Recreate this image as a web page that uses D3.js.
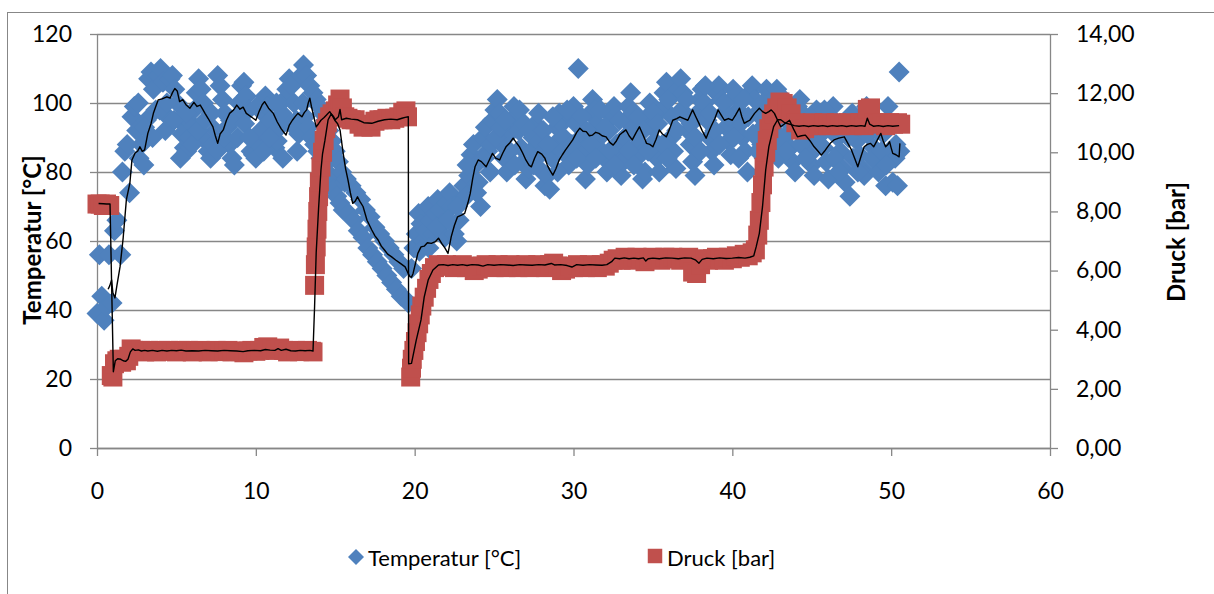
<!DOCTYPE html>
<html><head><meta charset="utf-8">
<script src="https://cdn.jsdelivr.net/npm/d3@7"></script>
<style>
body{margin:0;background:#fff;}
svg{display:block;}
text{font-family:Lato, "Open Sans", sans-serif;fill:#000;}
</style>
</head><body>
<svg id="chart" width="1214" height="594"></svg>
<script>
// ---------- DATA (minutes, value) ----------
const temperaturPoints = [
[0,39],[0.15,56],[0.3,44],[0.45,37],[0.6,41],[0.75,56],[0.95,42],[1.1,63],[1.25,66],[1.5,56],[1.6,80],[1.75,86],[1.9,88],[2.05,74],[2.2,96],[2.35,99],[2.5,92],[2.65,84],[2.8,88],[2.95,82],
[3.1,95],[3.25,107],[3.4,109],[3.55,104],[3.7,98],[3.85,108],[4.0,110],[4.15,106],[4.3,92],[4.45,96],[4.6,107],[4.75,108],[4.9,104],[5.05,100],[5.2,95],[5.35,91],[5.5,87],[5.65,86],[5.8,90],[5.95,94],
[6.1,98],[6.25,103],[6.4,107],[6.55,104],[6.7,100],[6.85,89],[7.0,86],[7.15,84],[7.3,88],[7.45,92],[7.6,108],[7.75,105],[7.9,101],[8.05,97],[8.2,93],[8.35,88],[8.5,84],[8.65,82],[8.8,96],[8.95,100],
[9.1,105],[9.25,106],[9.4,102],[9.55,98],[9.7,86],[9.85,85],[10.0,84],[10.15,88],[10.3,92],[10.45,97],[10.6,102],[10.75,99],[10.9,95],[11.05,91],[11.2,87],[11.35,89],[11.5,93],[11.65,97],[11.8,101],[11.95,104],
[12.1,107],[12.25,105],[12.4,100],[12.55,95],[12.7,91],[12.85,108],[13.0,111],[13.1,96],[13.2,108],[13.3,93],[13.4,105],[13.5,90],[13.6,103],[13.7,88],[13.8,101],[13.9,86],[14.0,99],[14.1,84],[14.2,97],[14.3,82],
[14.4,95],[14.5,80],[14.6,92],[14.7,78],[14.8,89],[14.9,75],[15.0,86],[15.1,73],[15.2,83],[15.3,71],[15.4,80],[15.5,69],[15.6,77],[15.7,78],[15.85,68],[16.0,76],[16.15,66],[16.3,74],[16.45,63],[16.6,72],
[16.75,61],[16.9,69],[17.05,58],[17.2,67],[17.35,56],[17.5,64],[17.65,54],[17.8,62],[17.95,52],[18.1,60],[18.25,50],[18.4,58],[18.55,48],[18.7,56],[18.85,46],[19.0,54],[19.15,44],[19.3,52],[19.45,43],[19.6,42],
[19.8,52],[19.95,58],[20.1,62],[20.25,68],[20.4,65],[20.55,60],[20.7,63],[20.85,70],[21.0,66],[21.15,62],[21.3,68],[21.45,72],[21.6,69],[21.75,65],[21.9,61],[22.05,71],[22.2,74],[22.35,70],[22.5,62],[22.65,60],
[22.8,66],[22.95,72],[23.1,76],[23.25,73],[23.4,79],[23.55,85],[23.7,88],[23.85,82],[24.0,77],[24.15,70],[24.3,90],[24.45,93],[24.6,86],[24.75,80],[24.9,95],
[25.05,98],[25.2,101],[25.35,97],[25.5,88],[25.65,84],[25.8,80],[25.95,91],[26.1,95],[26.25,99],[26.4,96],[26.55,92],[26.7,87],[26.85,83],[27.0,78],[27.15,81],[27.3,86],[27.45,90],[27.6,94],[27.75,89],[27.9,85],
[28.05,80],[28.2,76],[28.35,79],[28.5,75],[28.65,84],[28.8,88],[28.95,93],[29.1,97],[29.25,94],[29.4,90],[29.55,86],[29.7,82],[29.85,96],[30.0,99],[30.15,94],[30.3,110],[30.45,90],[30.6,86],[30.75,78],[30.9,82],
[31.05,97],[31.2,101],[31.35,98],[31.5,94],[31.65,90],[31.8,86],[31.95,84],[32.1,80],[32.25,92],[32.4,96],[32.55,99],[32.7,88],[32.85,84],[33.0,79],[33.15,83],[33.3,95],[33.45,99],[33.6,103],[33.75,97],[33.9,92],
[34.05,88],[34.2,85],[34.35,78],[34.5,80],[34.65,96],[34.8,100],[34.95,93],[35.1,89],[35.25,84],[35.4,80],[35.55,98],[35.7,103],[35.85,106],[36.0,101],[36.15,90],[36.3,86],[36.45,81],
[36.6,104],[36.75,107],[36.9,103],[37.05,96],[37.2,92],[37.35,88],[37.5,83],[37.65,79],[37.8,97],[37.95,101],[38.1,104],[38.25,100],[38.4,95],[38.55,90],[38.7,86],[38.85,82],[39.0,103],[39.15,105],[39.3,101],[39.45,97],
[39.6,93],[39.75,89],[39.9,85],[40.05,104],[40.2,102],[40.35,98],[40.5,94],[40.65,90],[40.8,86],[40.95,80],[41.1,103],[41.25,105],[41.4,101],[41.55,97],[41.7,92],[41.85,88],[42.0,84],[42.15,104],[42.3,100],[42.45,96],
[42.6,92],[42.75,88],[42.9,84],[43.05,102],[43.2,99],[43.35,95],[43.5,91],
[43.65,87],[43.8,83],[43.95,80],[44.1,99],[44.25,101],[44.4,97],[44.55,93],[44.7,89],[44.85,85],[45.0,82],[45.15,79],[45.3,98],[45.45,95],[45.6,91],[45.75,87],[45.9,83],[46.05,78],[46.2,96],[46.35,99],[46.5,94],
[46.65,90],[46.8,86],[46.95,81],[47.1,77],[47.4,73],[47.55,97],[47.7,93],[47.85,89],[48.0,85],[48.15,81],[48.3,79],[48.45,99],[48.6,96],[48.75,92],[48.9,87],[49.05,83],[49.2,80],[49.35,94],[49.5,91],[49.65,76],
[49.8,99],[49.95,86],[50.1,77],[50.25,84],[50.4,76],[50.5,109],[50.55,86],
[2.6,100],[3.0,93],[3.5,90],[3.95,98],[4.4,100],[4.85,95],[5.25,84],[5.6,97],[6.0,88],[6.35,92],[6.8,95],[7.2,97],[7.55,86],[8.0,90],[8.4,95],[8.85,90],[9.3,94],[9.6,90],[10.05,99],[10.5,86],
[10.85,90],[11.3,100],[11.7,84],[12.2,94],[12.6,86],[12.95,100],
[20.3,57],[20.9,58],[21.4,64],[22.1,66],[22.7,70],[23.3,82],[23.9,74],[24.4,84],[24.8,88],
[25.1,90],[25.4,93],[25.7,95],[26.0,86],[26.3,82],[26.6,98],[26.9,94],[27.2,92],[27.5,82],[27.8,97],[28.1,92],[28.4,88],[28.7,96],[29.0,80],[29.3,86],[29.6,98],[29.9,88],[30.2,84],[30.5,96],[30.8,92],
[31.1,88],[31.4,84],[31.7,98],[32.0,93],[32.3,86],[32.6,82],[32.9,95],[33.2,90],[33.5,86],[33.8,82],[34.1,96],[34.4,92],[34.7,86],[35.0,97],[35.3,94],[35.6,88],[35.9,84],[36.2,96],[36.5,92],[36.8,98],
[37.1,101],[37.4,94],[37.7,90],[38.0,86],[38.3,105],[38.6,97],[38.9,92],[39.2,88],[39.5,100],[39.8,96],[40.1,90],[40.4,84],[40.7,101],[41.0,96],[41.3,91],[41.6,86],[41.9,100],[42.2,94],[42.5,88],[42.8,104],
[43.1,90],[43.4,86],[43.7,98],[44.0,93],[44.3,88],[44.6,84],[44.9,96],[45.2,92],[45.5,88],[45.8,98],[46.1,93],[46.4,84],[46.7,80],[47.0,94],[47.3,90],[47.6,84],[47.9,80],[48.2,95],[48.5,91],[48.8,84],
[49.1,92],[49.4,86],[49.7,82],[50.0,94],[50.3,88]
];

const druckPoints = [
[0,8.25],[0.2,8.25],[0.4,8.2],[0.6,8.25],[0.8,8.2],[0.9,2.45],[1.0,2.4],[1.1,2.85],[1.25,2.95],[1.4,3.0],[1.55,2.9],[1.7,3.0],[1.85,2.95],[2.0,3.1],[2.15,3.35],[2.3,3.3],[2.5,3.28],[2.75,3.3],[3.0,3.25],[3.25,3.3],
[3.5,3.28],[3.75,3.25],[4.0,3.3],[4.25,3.27],[4.5,3.3],[4.75,3.28],[5.0,3.25],[5.25,3.3],[5.5,3.27],[5.75,3.3],[6.0,3.25],[6.25,3.28],[6.5,3.3],[6.75,3.27],[7.0,3.25],[7.25,3.28],[7.5,3.3],[7.75,3.26],[8.0,3.28],[8.25,3.3],
[8.5,3.25],[8.75,3.28],[9.0,3.26],[9.25,3.22],[9.5,3.28],[9.75,3.3],[10.0,3.27],[10.25,3.3],[10.5,3.4],[10.75,3.42],[11.0,3.35],[11.25,3.3],[11.5,3.38],[11.75,3.3],[12.0,3.25],[12.25,3.28],[12.5,3.3],[12.75,3.26],[13.0,3.28],[13.25,3.3],
[13.5,3.27],[13.6,3.25],[13.7,5.5],[13.75,6.2],[13.8,6.8],[13.85,7.4],[13.9,8.0],[13.95,8.5],[14.0,9.0],[14.1,9.5],[14.2,10.0],[14.3,10.4],[14.4,10.8],[14.5,11.0],[14.65,11.2],[14.8,11.3],[15.0,11.4],[15.15,11.6],[15.3,11.8],[15.45,11.5],
[15.6,11.2],[15.8,11.15],[16.0,11.1],[16.25,11.1],[16.5,10.95],[16.75,10.85],[17.0,10.9],[17.25,10.85],[17.5,11.05],[17.75,11.1],[18.0,11.1],[18.25,11.15],[18.5,11.1],[18.75,11.15],[19.0,11.2],[19.25,11.35],[19.45,11.4],[19.55,11.2],
[19.75,2.4],[19.8,2.7],[19.85,3.0],[19.95,3.3],[20.05,3.6],[20.15,3.9],[20.25,4.2],[20.35,4.5],[20.45,4.8],[20.6,5.1],[20.75,5.4],[20.9,5.7],[21.05,5.9],[21.25,6.1],[21.5,6.2],[21.75,6.15],[22.0,6.2],[22.25,6.15],[22.5,6.1],[22.75,6.15],
[23.0,6.2],[23.25,6.1],[23.5,6.15],[23.75,6.0],[24.0,6.05],[24.25,6.15],[24.5,6.2],[24.75,6.15],[25.0,6.1],[25.25,6.2],[25.5,6.15],[25.75,6.1],[26.0,6.2],[26.25,6.15],[26.5,6.1],[26.75,6.15],[27.0,6.2],[27.25,6.1],[27.5,6.15],[27.75,6.2],
[28.0,6.15],[28.25,6.1],[28.5,6.2],[28.75,6.25],[29.0,6.15],[29.25,6.0],[29.5,6.05],[29.75,6.15],[30.0,6.1],[30.25,6.2],[30.5,6.15],[30.75,6.1],[31.0,6.2],[31.25,6.15],[31.5,6.1],[31.75,6.2],[32.0,6.15],[32.25,6.25],[32.5,6.35],[32.75,6.4],
[33.0,6.35],[33.25,6.45],[33.5,6.4],[33.75,6.35],[34.0,6.45],[34.25,6.4],[34.5,6.3],[34.75,6.4],[35.0,6.45],[35.25,6.4],[35.5,6.35],[35.75,6.45],[36.0,6.4],[36.25,6.45],[36.5,6.4],[36.75,6.35],[37.0,6.4],[37.25,6.45],[37.5,5.95],[37.75,5.9],
[38.0,6.2],[38.25,6.4],[38.5,6.35],[38.75,6.4],[39.0,6.45],[39.25,6.4],[39.5,6.35],[39.75,6.45],[40.0,6.4],[40.25,6.5],[40.5,6.45],[40.75,6.55],[41.0,6.5],[41.25,6.6],[41.45,6.7],[41.6,7.2],[41.7,7.7],[41.8,8.3],[41.9,8.9],[42.0,9.5],
[42.1,10.0],[42.2,10.4],[42.3,10.8],[42.45,11.1],[42.6,11.3],[42.8,11.5],[43.0,11.7],[43.2,11.65],[43.45,11.5],[43.7,11.3],[44.0,11.0],[44.3,10.75],[44.55,10.8],[44.8,10.9],[45.05,11.0],[45.3,10.9],[45.55,10.95],[45.8,11.0],[46.05,10.9],[46.3,10.95],
[46.55,11.0],[46.8,10.9],[47.05,10.95],[47.3,11.0],[47.55,10.9],[47.8,10.95],[48.05,11.0],[48.3,10.9],[48.5,11.45],[48.7,11.5],[48.9,11.0],[49.15,10.95],[49.4,11.0],[49.65,10.9],[49.9,11.0],[50.15,10.95],[50.4,11.0],[50.6,10.95]
];

// moving-average trend lines (black)
const temperaturTrend = [
[0.7,46],[0.8,47],[0.92,48.7],[1.0,45],[1.13,43.5],[1.25,47],[1.45,52.5],[1.65,61],[1.85,72],[2.07,76.8],[2.2,83.5],[2.4,85.5],[2.55,86],[2.7,87.3],[2.85,86],[3.0,86.4],[3.2,91.2],[3.4,94],[3.55,97],[3.7,99],
[3.85,100.9],[4.1,101.2],[4.4,101.8],[4.6,101.4],[4.75,103],[4.9,104.2],[5.05,103.5],[5.2,100.4],[5.4,101],[5.6,99.5],[5.85,98.5],[6.1,100.2],[6.3,99],[6.5,99.4],[6.65,98.2],[6.8,97],[7.0,95.5],[7.3,93.1],[7.45,90.5],[7.6,88.3],
[7.75,91],[7.95,92.2],[8.15,95],[8.35,97],[8.6,98],[8.8,99.4],[9.0,98.2],[9.2,98.8],[9.4,97],[9.7,96],[10.0,95],[10.2,97.5],[10.4,99.5],[10.55,100.4],[10.8,98.5],[11.1,97],[11.35,94.5],[11.6,92.5],[11.9,90.7],[12.1,93.5],
[12.3,95],[12.5,96.2],[12.65,97],[12.9,96],[13.05,97.2],[13.2,98],[13.3,100],[13.4,101.4],[13.5,99],[13.6,97],[13.8,93.1],[13.95,94],[14.1,95],[14.3,95.8],[14.45,96.5],[14.65,97.5],[14.8,96.5],[14.97,95],[15.15,94],[15.3,92.2],
[15.5,85.4],[15.65,81],[15.8,77.7],[15.95,74],[16.1,70.9],[16.25,71.5],[16.4,72.8],[16.55,71.5],[16.75,70],[17.0,66],[17.3,63.2],[17.5,61.5],[17.7,60.3],[17.9,58.5],[18.1,57.4],[18.3,56.2],[18.55,55.4],[18.8,54.5],[19.1,53.5],[19.4,52.5],
[19.55,51],[19.7,49.7],[19.8,49.5],[19.9,50.6],[20.05,53.5],[20.2,56.4],[20.4,58.3],[20.6,58.5],[20.8,59.5],[21.05,59.3],[21.3,59.8],[21.5,60.8],[21.7,59.3],[21.9,58],[22.1,56.4],[22.3,61.2],[22.5,64.5],[22.7,67],[22.95,67.5],[23.15,68],
[23.35,71],[23.5,73.8],[23.65,78],[23.8,81.5],[24.0,83.5],[24.2,83],[24.5,81.5],[24.7,83.5],[24.9,85.4],[25.1,84],[25.35,83.5],[25.55,85.5],[25.75,87.3],[26.0,88.5],[26.2,89.8],[26.4,88.5],[26.6,87.3],[26.8,85.5],[27.0,83.5],[27.2,82],
[27.35,81.5],[27.55,84],[27.75,85.9],[28.0,85.2],[28.2,84],[28.35,82],[28.5,80.6],[28.7,79.1],[28.9,81],[29.1,83.5],[29.3,85],[29.5,86.4],[29.75,88],[29.95,89.3],[30.2,91.5],[30.4,92.7],[30.6,91.8],[30.8,91.7],[31.0,90.5],[31.2,90.7],
[31.4,91.5],[31.6,91.2],[31.8,90.5],[32.05,90.2],[32.3,88.5],[32.5,87.8],[32.7,89],[32.9,90.7],[33.1,91.5],[33.3,92.2],[33.5,90.5],[33.7,89.3],[33.95,91.5],[34.15,93.1],[34.4,90.5],[34.6,88.3],[34.8,88],[35.0,87.3],[35.2,89.5],[35.4,92.2],
[35.6,91],[35.85,90.2],[36.05,92.5],[36.25,95],[36.5,95.5],[36.7,96],[36.95,95.5],[37.2,95],[37.35,96.5],[37.5,98],[37.7,96],[37.9,94.1],[38.1,92],[38.35,89.8],[38.5,91.5],[38.65,93.1],[38.9,95.5],[39.1,98],[39.3,96.5],[39.5,95],
[39.75,95.5],[40.0,95],[40.2,96.5],[40.45,98.5],[40.6,96],[40.75,94.1],[40.9,94.5],[41.1,95],[41.4,97],[41.7,98.5],[41.9,97.5],[42.1,97],[42.3,97.5],[42.45,98],[42.65,97],[42.85,95],[43.05,93.1],[43.3,94],[43.6,95],[43.85,92.5],
[44.1,90.2],[44.35,90.5],[44.6,90.7],[44.9,89],[45.15,87.3],[45.4,86],[45.6,84.9],[45.8,86],[46.0,87.3],[46.2,88.5],[46.4,89.3],[46.7,89.8],[47.05,90.2],[47.25,88.5],[47.5,86.4],[47.7,84],[47.9,81.5],[48.1,84.5],[48.3,87.3],[48.5,88],
[48.7,88.3],[48.9,87.3],[49.1,89],[49.35,91.2],[49.5,89],[49.65,87.3],[49.8,88],[49.9,88.8],[50.0,87],[50.1,85.4],[50.3,85],[50.5,84.4],[50.55,88.3]
];

const druckTrend = [
[0.1,8.27],[0.4,8.26],[0.6,8.25],[0.82,8.25],[1.03,2.58],[1.15,2.95],[1.3,3.02],[1.5,3.0],[1.65,2.95],[1.8,2.93],[1.95,3.0],[2.1,3.25],[2.25,3.35],[2.4,3.3],[2.6,3.32],[2.8,3.28],[3.0,3.3],[3.2,3.28],[3.5,3.3],[3.8,3.27],
[4.1,3.3],[4.4,3.28],[4.7,3.3],[5.0,3.29],[5.3,3.31],[5.6,3.28],[6.0,3.29],[6.4,3.28],[6.8,3.3],[7.2,3.29],[7.6,3.28],[8.0,3.3],[8.4,3.29],[8.8,3.28],[9.2,3.26],[9.5,3.29],[9.9,3.3],[10.3,3.29],[10.6,3.33],[10.9,3.31],
[11.2,3.3],[11.4,3.36],[11.6,3.3],[11.9,3.34],[12.2,3.29],[12.5,3.28],[12.8,3.3],[13.1,3.29],[13.4,3.3],[13.6,3.28],[13.7,4.8],[13.8,6.6],[13.95,8.1],[14.1,9.4],[14.2,9.95],[14.35,10.4],[14.55,11.1],[14.75,11.3],[14.9,11.2],[15.0,11.1],
[15.2,11.2],[15.3,11.45],[15.4,11.1],[15.7,11.15],[16.0,11.12],[16.4,11.1],[16.8,11.0],[17.3,10.98],[17.7,11.05],[18.1,11.1],[18.5,11.12],[18.9,11.1],[19.2,11.15],[19.4,11.18],[19.6,11.2],[19.62,2.85],[19.8,2.86],[20.1,3.65],[20.4,4.33],[20.6,5.1],
[20.85,5.68],[21.15,6.02],[21.5,6.19],[21.8,6.2],[22.1,6.17],[22.4,6.2],[22.7,6.18],[23.0,6.2],[23.3,6.17],[23.6,6.2],[24.0,6.19],[24.3,6.15],[24.6,6.2],[25.0,6.18],[25.4,6.2],[25.8,6.19],[26.2,6.17],[26.6,6.2],[27.0,6.19],[27.4,6.18],
[27.8,6.2],[28.2,6.19],[28.6,6.24],[28.8,6.19],[29.2,6.2],[29.6,6.17],[29.9,6.12],[30.2,6.2],[30.6,6.18],[31.0,6.2],[31.4,6.19],[31.8,6.18],[32.1,6.2],[32.4,6.3],[32.6,6.42],[32.9,6.4],[33.2,6.43],[33.5,6.4],[33.8,6.42],[34.1,6.4],
[34.4,6.43],[34.55,6.32],[34.7,6.4],[35.0,6.42],[35.4,6.4],[35.8,6.43],[36.2,6.42],[36.6,6.4],[37.0,6.43],[37.4,6.42],[37.7,6.35],[37.9,6.25],[38.1,6.38],[38.4,6.42],[38.8,6.4],[39.2,6.43],[39.6,6.41],[40.0,6.42],[40.4,6.44],[40.8,6.42],
[41.1,6.45],[41.35,6.5],[41.5,6.8],[41.7,7.26],[41.9,8.16],[42.1,9.4],[42.3,10.19],[42.6,10.87],[42.85,11.1],[43.05,11.1],[43.3,11.0],[43.6,10.95],[43.9,10.9],[44.2,10.88],[44.5,10.9],[44.8,10.87],[45.1,10.9],[45.4,10.88],[45.7,10.9],[46.0,10.87],
[46.3,10.9],[46.6,10.88],[46.9,10.9],[47.2,10.87],[47.5,10.9],[47.8,10.88],[48.1,10.9],[48.35,10.88],[48.5,11.15],[48.65,10.95],[48.9,10.88],[49.2,10.9],[49.5,10.87],[49.8,10.9],[50.1,10.88],[50.5,10.9]
];

const xTicks = [0,10,20,30,40,50,60];
const temperaturTicks = [0,20,40,60,80,100,120];
const druckTicks = [0,2,4,6,8,10,12,14];
const seriesNames = ["Temperatur [°C]", "Druck [bar]"];
const axisTitles = {left:"Temperatur [°C]", right:"Druck [bar]"};

// ---------- CHART ----------
const blue = "#4F81BD", red = "#C0504D", gridCol = "#878787";
const svg = d3.select("#chart");
const plot = {left:97, right:1050, top:34, bottom:448};

const x = d3.scaleLinear().domain([0,60]).range([plot.left, plot.right]);
const yT = d3.scaleLinear().domain([0,120]).range([plot.bottom, plot.top]);
const yP = d3.scaleLinear().domain([0,14]).range([plot.bottom, plot.top]);

// outer chart frame
svg.append("rect").attr("x",7.5).attr("y",12.5).attr("width",1300).attr("height",700)
  .attr("fill","none").attr("stroke",gridCol).attr("stroke-width",1);

// gridlines
svg.append("g").selectAll("line").data(temperaturTicks).join("line")
  .attr("x1",plot.left).attr("x2",plot.right)
  .attr("y1",d=>Math.round(yT(d))+0.5).attr("y2",d=>Math.round(yT(d))+0.5)
  .attr("stroke",gridCol).attr("stroke-width",1.3);

function styleAxis(g){
  g.selectAll("path.domain").attr("stroke",gridCol).attr("stroke-width",1.3);
  g.selectAll(".tick line").attr("stroke",gridCol).attr("stroke-width",1.3);
  g.selectAll("text").style("font-family","Lato, sans-serif").style("font-size","23px").attr("fill","#000");
}

const gx = svg.append("g").attr("transform",`translate(0,${plot.bottom})`)
  .call(d3.axisBottom(x).tickValues(xTicks).tickSize(8).tickSizeOuter(0).tickPadding(27).tickFormat(d3.format("d")));
styleAxis(gx);

const gl = svg.append("g").attr("transform",`translate(${plot.left},0)`)
  .call(d3.axisLeft(yT).tickValues(temperaturTicks).tickSize(7).tickSizeOuter(0).tickPadding(18).tickFormat(d3.format("d")));
styleAxis(gl);

const gr = svg.append("g").attr("transform",`translate(${plot.right},0)`)
  .call(d3.axisRight(yP).tickValues(druckTicks).tickSize(8).tickSizeOuter(0).tickPadding(18)
    .tickFormat(d=>d.toFixed(2).replace(".",",")));
styleAxis(gr);

// diamond / square paths
const diamond = r => `M0,${-r}L${r},0L0,${r}L${-r},0Z`;
const square = s => `M${-s/2},${-s/2}h${s}v${s}h${-s}Z`;

svg.append("g").selectAll("path").data(temperaturPoints).join("path")
  .attr("d",diamond(10.5))
  .attr("transform",d=>`translate(${x(d[0])},${yT(d[1])})`)
  .attr("fill",blue);

svg.append("g").selectAll("path").data(druckPoints).join("path")
  .attr("d",square(19))
  .attr("transform",d=>`translate(${x(d[0])},${yP(d[1])})`)
  .attr("fill",red);

const lineT = d3.line().x(d=>x(d[0])).y(d=>yT(d[1]));
const lineP = d3.line().x(d=>x(d[0])).y(d=>yP(d[1]));
svg.append("path").datum(temperaturTrend).attr("d",lineT)
  .attr("fill","none").attr("stroke","#000").attr("stroke-width",1.4).attr("stroke-linejoin","round");
svg.append("path").datum(druckTrend).attr("d",lineP)
  .attr("fill","none").attr("stroke","#000").attr("stroke-width",1.4).attr("stroke-linejoin","round");

// axis titles
svg.append("text").attr("transform","translate(31,240) rotate(-90)")
  .attr("text-anchor","middle").attr("dominant-baseline","central")
  .style("font-size","24px").style("font-weight","bold").text(axisTitles.left);
svg.append("text").attr("transform","translate(1175,242) rotate(-90)")
  .attr("text-anchor","middle").attr("dominant-baseline","central")
  .style("font-size","24px").style("font-weight","bold").text(axisTitles.right);

// legend
const lg = svg.append("g");
lg.append("path").attr("d",diamond(8)).attr("transform","translate(356,557)").attr("fill",blue);
lg.append("text").attr("x",368).attr("y",557).attr("dominant-baseline","central")
  .style("font-size","22px").text(seriesNames[0]);
lg.append("path").attr("d",square(14.5)).attr("transform","translate(655,556)").attr("fill",red);
lg.append("text").attr("x",667).attr("y",557).attr("dominant-baseline","central")
  .style("font-size","22px").text(seriesNames[1]);
</script>
</body></html>
